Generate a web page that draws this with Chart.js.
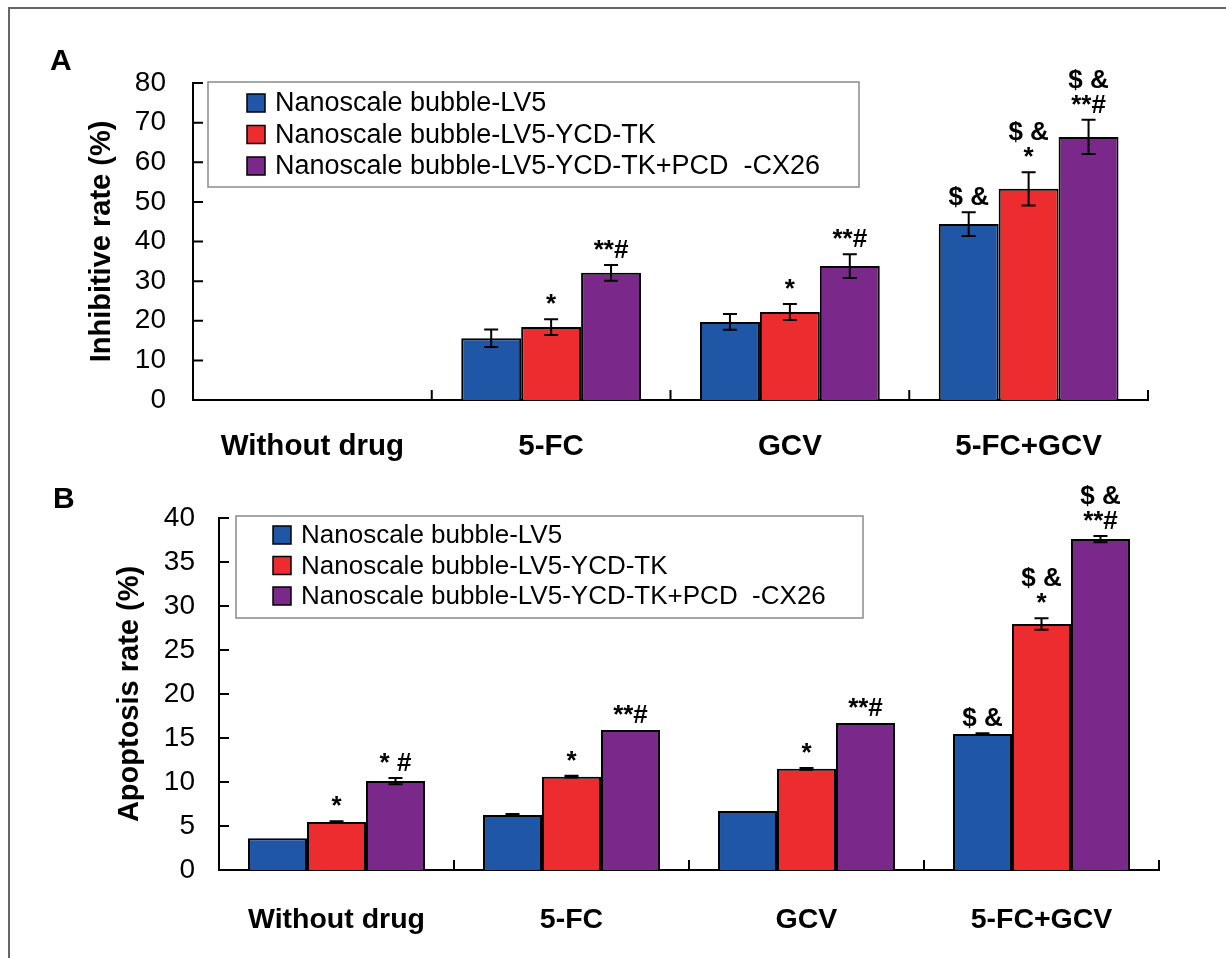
<!DOCTYPE html>
<html>
<head>
<meta charset="utf-8">
<script src="https://cdn.jsdelivr.net/npm/chart.js@4.4.1/dist/chart.umd.min.js"></script>
<style>
  html, body { margin: 0; padding: 0; background: #fff; }
  body { width: 1226px; height: 958px; position: relative; overflow: hidden; }
  .frame { position: absolute; left: 8px; top: 7px; width: 1240px; height: 970px;
           border-left: 2px solid #666; border-top: 2px solid #666; }
  canvas { position: absolute; left: 0; }
  #chartA { top: 0; }
  #chartB { top: 470px; }
</style>
</head>
<body>
<div class="frame"></div>
<canvas id="chartA" width="1226" height="470"></canvas>
<canvas id="chartB" width="1226" height="488"></canvas>
<script>
const categories = ['Without drug', '5-FC', 'GCV', '5-FC+GCV'];
const seriesNames = ['Nanoscale bubble-LV5', 'Nanoscale bubble-LV5-YCD-TK', 'Nanoscale bubble-LV5-YCD-TK+PCD  -CX26'];
const seriesColors = ['#1f56a6', '#ec2c2e', '#7a288a'];

// panel A: inhibitive rate (%)
const inhibitLV5 = [0, 15.6, 19.7, 44.4];
const inhibitYCD = [0, 18.4, 22.2, 53.3];
const inhibitPCD = [0, 32.1, 33.8, 66.4];
const inhibitLV5Err = [0, 2.2, 2.0, 3.0];
const inhibitYCDErr = [0, 2.0, 2.0, 4.2];
const inhibitPCDErr = [0, 2.0, 3.0, 4.3];
const inhibitLV5Marks = ['', '', '', '$ &'];
const inhibitYCDMarks = ['', '*', '*', '$ &\n*'];
const inhibitPCDMarks = ['', '**#', '**#', '$ &\n**#'];
const inhibitTicks = [0, 10, 20, 30, 40, 50, 60, 70, 80];

// panel B: apoptosis rate (%)
const apopLV5 = [3.6, 6.25, 6.7, 15.45];
const apopYCD = [5.45, 10.6, 11.5, 27.95];
const apopPCD = [10.1, 15.9, 16.7, 37.6];
const apopLV5Err = [0, 0.1, 0, 0.1];
const apopYCDErr = [0.1, 0.1, 0.1, 0.65];
const apopPCDErr = [0.35, 0, 0, 0.35];
const apopLV5Marks = ['', '', '', '$ &'];
const apopYCDMarks = ['*', '*', '*', '$ &\n*'];
const apopPCDMarks = ['* #', '**#', '**#', '$ &\n**#'];
const apopTicks = [0, 5, 10, 15, 20, 25, 30, 35, 40];

const FONT = '"Liberation Sans", Arial, Helvetica, sans-serif';
Chart.defaults.font.family = FONT;
Chart.defaults.color = '#000';

// error bars, significance marks, inward ticks, category separators, boxed legend
const decor = {
  id: 'decor',
  afterDatasetsDraw(chart, args, opts) {
    const ctx = chart.ctx;
    const xs = chart.scales.x, ys = chart.scales.y;
    const area = chart.chartArea;
    ctx.save();
    ctx.strokeStyle = '#000';
    ctx.lineWidth = 2;

    chart.data.datasets.forEach((ds, di) => {
      chart.getDatasetMeta(di).data.forEach((bar, i) => {
        const v = ds.data[i];
        const e = opts.errors[di][i];
        const cx = bar.x;
        const top = ys.getPixelForValue(v + e);
        if (e > 0) {
          const bot = ys.getPixelForValue(v - e);
          ctx.beginPath();
          ctx.moveTo(cx, top); ctx.lineTo(cx, bot);
          ctx.moveTo(cx - 7, top); ctx.lineTo(cx + 7, top);
          ctx.moveTo(cx - 7, bot); ctx.lineTo(cx + 7, bot);
          ctx.stroke();
        }
        const mark = opts.marks[di][i];
        if (mark) {
          ctx.fillStyle = '#000';
          ctx.font = 'bold 26px ' + FONT;
          ctx.textAlign = 'center';
          ctx.textBaseline = 'alphabetic';
          mark.split('\n').reverse().forEach((ln, k) => {
            ctx.fillText(ln, cx, top - 7 - k * 25);
          });
        }
      });
    });

    // y ticks pointing into the plot
    ctx.beginPath();
    ys.ticks.forEach(t => {
      const py = ys.getPixelForValue(t.value);
      ctx.moveTo(area.left, py); ctx.lineTo(area.left + 10, py);
    });
    // separators between categories
    for (let i = 0; i < categories.length; i++) {
      const px = xs.getPixelForValue(i + 0.5);
      ctx.moveTo(px, area.bottom); ctx.lineTo(px, area.bottom - 10);
    }
    ctx.stroke();

    // legend box
    const lg = opts.legend;
    ctx.strokeStyle = '#8a8a8a';
    ctx.lineWidth = 1.5;
    ctx.strokeRect(lg.x, lg.y, lg.w, lg.h);
    ctx.font = lg.size + 'px ' + FONT;
    ctx.textAlign = 'left';
    ctx.textBaseline = 'middle';
    chart.data.datasets.forEach((ds, di) => {
      const cy = lg.y + lg.first + di * lg.gap;
      ctx.fillStyle = ds.backgroundColor;
      ctx.fillRect(lg.x + lg.pad, cy - 9, 18, 18);
      ctx.strokeStyle = '#000';
      ctx.strokeRect(lg.x + lg.pad, cy - 9, 18, 18);
      ctx.fillStyle = '#000';
      ctx.fillText(ds.label, lg.x + lg.pad + 28, cy + 1);
    });

    // panel letter
    ctx.font = 'bold 30px ' + FONT;
    ctx.textBaseline = 'alphabetic';
    ctx.fillText(opts.letter.text, opts.letter.x, opts.letter.y);
    ctx.restore();
  }
};

function makeChart(id, values, errors, marks, ticks, title, lay) {
  return new Chart(document.getElementById(id), {
    type: 'bar',
    data: {
      labels: categories,
      datasets: values.map((vals, i) => ({
        label: seriesNames[i],
        data: vals,
        backgroundColor: seriesColors[i],
        borderColor: '#000',
        borderWidth: 2,
        barPercentage: 1,
        categoryPercentage: 0.753
      }))
    },
    options: {
      responsive: false,
      animation: false,
      layout: { padding: lay.padding },
      plugins: {
        legend: { display: false },
        tooltip: { enabled: false },
        decor: { errors, marks, legend: lay.legend, letter: lay.letter }
      },
      scales: {
        x: {
          grid: { display: false, drawTicks: false },
          border: { display: true, color: '#000', width: 2 },
          ticks: { font: { size: lay.xSize, weight: 'bold' }, padding: lay.xPad, maxRotation: 0, autoSkip: false },
          afterFit: s => { s.height = lay.xHeight; }
        },
        y: {
          min: ticks[0],
          max: ticks[ticks.length - 1],
          grid: { display: false, drawTicks: false },
          border: { display: true, color: '#000', width: 2 },
          ticks: { font: { size: 28 }, padding: lay.tickPad, autoSkip: false },
          afterBuildTicks: s => { s.ticks = ticks.map(v => ({ value: v })); },
          title: { display: true, text: title, font: { size: 29, weight: 'bold' }, padding: { top: 6, bottom: 0 } },
          afterFit: s => { s.width = lay.yWidth; }
        }
      }
    },
    plugins: [decor]
  });
}

makeChart('chartA',
  [inhibitLV5, inhibitYCD, inhibitPCD],
  [inhibitLV5Err, inhibitYCDErr, inhibitPCDErr],
  [inhibitLV5Marks, inhibitYCDMarks, inhibitPCDMarks],
  inhibitTicks, 'Inhibitive rate (%)',
  {
    padding: { left: 79, right: 78, top: 83, bottom: 0 },
    yWidth: 114, xHeight: 70, tickPad: 27, xSize: 29.5, xPad: 29,
    legend: { x: 208, y: 82, w: 651, h: 105, pad: 39, first: 21, gap: 31.5, size: 27 },
    letter: { text: 'A', x: 50, y: 70 }
  });

makeChart('chartB',
  [apopLV5, apopYCD, apopPCD],
  [apopLV5Err, apopYCDErr, apopPCDErr],
  [apopLV5Marks, apopYCDMarks, apopPCDMarks],
  apopTicks, 'Apoptosis rate (%)',
  {
    padding: { left: 107, right: 67, top: 48, bottom: 18 },
    yWidth: 112, xHeight: 70, tickPad: 24, xSize: 28.5, xPad: 33,
    legend: { x: 236, y: 46, w: 627, h: 102, pad: 37, first: 19, gap: 30.5, size: 26 },
    letter: { text: 'B', x: 53, y: 38 }
  });
</script>
</body>
</html>
